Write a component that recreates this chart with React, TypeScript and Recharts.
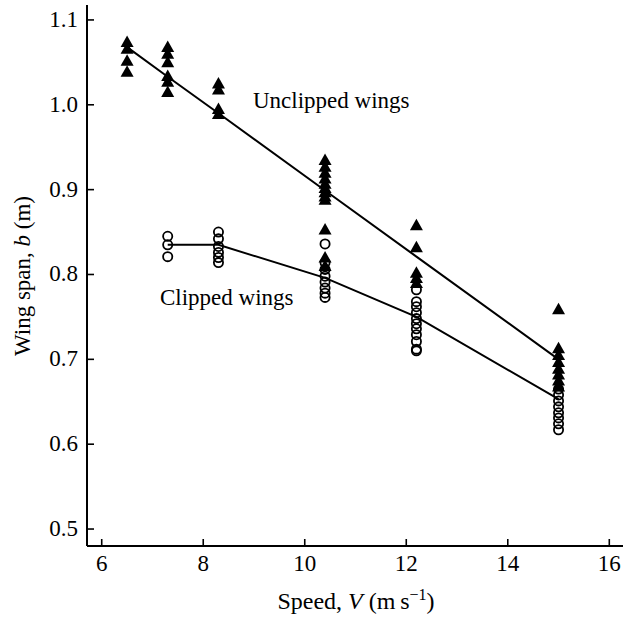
import React from 'react'
import { ComposedChart, Scatter, Line, XAxis, YAxis } from 'recharts'

// speed (m/s) of each measured group
const unclippedSpeeds = [6.5, 7.3, 8.3, 10.4, 12.2, 15]
const unclippedSpans = [
  [1.074, 1.066, 1.052, 1.039],
  [1.068, 1.06, 1.05, 1.034, 1.027, 1.015],
  [1.025, 1.018, 0.995, 0.989],
  [0.935, 0.927, 0.92, 0.913, 0.907, 0.902, 0.897, 0.892, 0.888, 0.853, 0.82, 0.81],
  [0.858, 0.832, 0.802, 0.796, 0.79],
  [0.759, 0.713, 0.705, 0.697, 0.689, 0.682, 0.675, 0.668],
]
const unclippedFit = [1.068, 1.033, 0.99, 0.899, 0.821, 0.7]

const clippedSpeeds = [7.3, 8.3, 10.4, 12.2, 15]
const clippedSpans = [
  [0.845, 0.835, 0.821],
  [0.85, 0.842, 0.833, 0.826, 0.82, 0.814],
  [0.836, 0.814, 0.806, 0.798, 0.791, 0.784, 0.778, 0.773],
  [0.782, 0.768, 0.762, 0.755, 0.748, 0.742, 0.736, 0.729, 0.721, 0.712, 0.71],
  [0.665, 0.658, 0.651, 0.644, 0.637, 0.631, 0.624, 0.617],
]
const clippedFit = [0.835, 0.835, 0.796, 0.75, 0.653]

const xTicks = [6, 8, 10, 12, 14, 16]
const yTicks = [0.5, 0.6, 0.7, 0.8, 0.9, 1.0, 1.1]

const FONT = '"Liberation Serif", "Times New Roman", serif'

const toPoints = (speeds: number[], spans: number[][]) =>
  speeds.flatMap((s, i) => spans[i].map((b) => ({ x: s, y: b })))
const toLine = (speeds: number[], fit: number[]) => speeds.map((s, i) => ({ x: s, y: fit[i] }))

const unclippedPts = toPoints(unclippedSpeeds, unclippedSpans)
const clippedPts = toPoints(clippedSpeeds, clippedSpans)
const unclippedLine = toLine(unclippedSpeeds, unclippedFit)
const clippedLine = toLine(clippedSpeeds, clippedFit)

function TriangleShape(props: any) {
  const { cx, cy } = props
  return <path d={`M${cx},${cy - 6.5} L${cx + 6.5},${cy + 5} L${cx - 6.5},${cy + 5} Z`} fill="#000" />
}

function CircleShape(props: any) {
  const { cx, cy } = props
  return <circle cx={cx} cy={cy} r={4.6} fill="none" stroke="#000" strokeWidth={1.8} />
}

function BottomTick({ x, y, payload }: any) {
  return (
    <g>
      <line x1={x} x2={x} y1={y} y2={y - 7} stroke="#000" strokeWidth={1.6} />
      <text x={x} y={y + 25} textAnchor="middle" fontFamily={FONT} fontSize={23} fill="#000">
        {payload.value}
      </text>
    </g>
  )
}

function TopTick({ x, y }: any) {
  return <line x1={x} x2={x} y1={y} y2={y + 7} stroke="#000" strokeWidth={1.6} />
}

function LeftTick({ x, y, payload }: any) {
  return (
    <g>
      <line x1={x} x2={x + 7} y1={y} y2={y} stroke="#000" strokeWidth={1.6} />
      <text x={x - 9} y={y + 7} textAnchor="end" fontFamily={FONT} fontSize={23} fill="#000">
        {Number(payload.value).toFixed(1)}
      </text>
    </g>
  )
}

function RightTick({ x, y }: any) {
  return <line x1={x} x2={x - 7} y1={y} y2={y} stroke="#000" strokeWidth={1.6} />
}

export default function App() {
  return (
    <div style={{ position: 'absolute', left: 0, top: 0, width: 625, height: 619, background: '#fff' }}>
      <ComposedChart width={625} height={619} margin={{ top: 5, right: 2, bottom: 0, left: 0 }}>
        <XAxis
          dataKey="x"
          type="number"
          domain={[5.71, 16.27]}
          ticks={xTicks}
          allowDataOverflow
          height={73}
          tickSize={0}
          tickMargin={0}
          tickLine={false}
          tick={<BottomTick />}
          axisLine={{ stroke: '#000', strokeWidth: 2 }}
        />
        <XAxis
          xAxisId="top"
          orientation="top"
          type="number"
          domain={[5.71, 16.27]}
          ticks={xTicks}
          allowDataOverflow
          height={0}
          tickSize={0}
          tickMargin={0}
          tickLine={false}
          tick={<TopTick />}
          axisLine={{ stroke: '#000', strokeWidth: 2 }}
        />
        <YAxis
          dataKey="y"
          type="number"
          domain={[0.48, 1.1176]}
          ticks={yTicks}
          allowDataOverflow
          width={87}
          tickSize={0}
          tickMargin={0}
          tickLine={false}
          tick={<LeftTick />}
          axisLine={{ stroke: '#000', strokeWidth: 2 }}
        />
        <YAxis
          yAxisId="right"
          orientation="right"
          type="number"
          domain={[0.48, 1.1176]}
          ticks={yTicks}
          allowDataOverflow
          width={0}
          tickSize={0}
          tickMargin={0}
          tickLine={false}
          tick={<RightTick />}
          axisLine={{ stroke: '#000', strokeWidth: 2 }}
        />
        <Line
          data={unclippedLine}
          dataKey="y"
          type="linear"
          stroke="#000"
          strokeWidth={2}
          dot={false}
          isAnimationActive={false}
        />
        <Line
          data={clippedLine}
          dataKey="y"
          type="linear"
          stroke="#000"
          strokeWidth={2}
          dot={false}
          isAnimationActive={false}
        />
        <Scatter data={clippedPts} dataKey="y" shape={<CircleShape />} isAnimationActive={false} />
        <Scatter data={unclippedPts} dataKey="y" shape={<TriangleShape />} isAnimationActive={false} />
      </ComposedChart>
      <svg
        width={625}
        height={619}
        style={{ position: 'absolute', left: 0, top: 0, pointerEvents: 'none' }}
        fontFamily={FONT}
        fill="#000"
      >
        <text x={253} y={108} fontSize={23}>Unclipped wings</text>
        <text x={160} y={305} fontSize={23}>Clipped wings</text>
        <text x={356} y={609} textAnchor="middle" fontSize={24}>
          Speed, <tspan fontStyle="italic">V</tspan> (m{'\u2009'}s<tspan dy={-9} fontSize={16}>−1</tspan>
          <tspan dy={9}>)</tspan>
        </text>
        <text x={30} y={276} textAnchor="middle" fontSize={23} transform="rotate(-90 30 276)">
          Wing span, <tspan fontStyle="italic">b</tspan> (m)
        </text>
      </svg>
    </div>
  )
}
